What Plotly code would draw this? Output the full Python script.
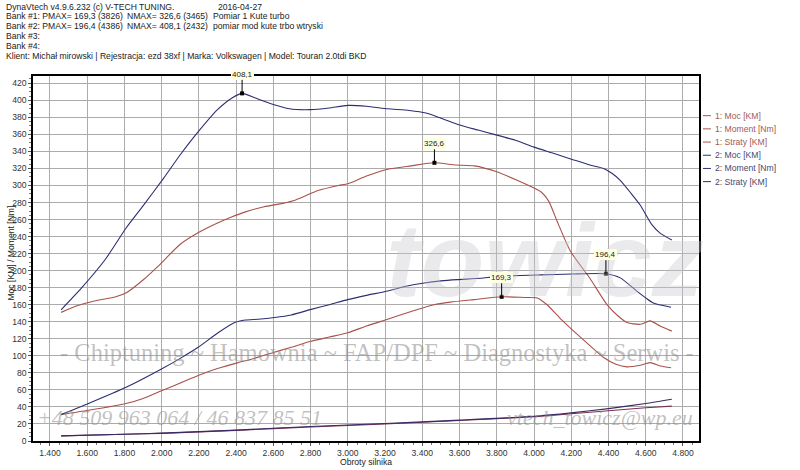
import plotly.graph_objects as go

# ---------------- data ----------------
rpm_moment1 = [1460, 1550, 1650, 1750, 1810, 1900, 1980, 2100, 2200, 2300, 2375, 2450, 2550, 2650, 2720,
               2840, 2950, 3000, 3100, 3214, 3340, 3465, 3580, 3680, 3800, 3900, 3980, 4040, 4080, 4124,
               4195, 4300, 4392, 4450, 4500, 4570, 4624, 4677, 4740]
moment1 = [151, 159, 165, 169, 174, 189, 205, 231, 245, 256, 263, 269, 275, 279, 283,
           294, 300, 302, 311, 319, 323, 326.6, 324, 323, 316, 307, 299, 292, 281, 258,
           223, 191, 160, 147, 139, 137, 141, 135, 129]

rpm_moc1 = [1460, 1607, 1809, 1900, 1999, 2100, 2196, 2300, 2410, 2482, 2600, 2696, 2800, 2900, 2999,
            3100, 3214, 3340, 3463, 3550, 3677, 3826, 3950, 4017, 4070, 4140, 4213, 4300, 4374, 4440,
            4499, 4570, 4624, 4680, 4736]
moc1 = [31, 36, 44, 50, 59, 68, 77, 85, 92, 96, 104, 110, 117, 122, 127,
        135, 143, 152, 160, 163, 166, 169.3, 168.5, 168, 160, 144, 129, 112, 98, 90,
        87, 89, 92, 88, 86]

rpm_moment2 = [1460, 1571, 1700, 1809, 1900, 2009, 2100, 2200, 2300, 2380, 2432, 2500, 2600, 2686, 2800,
               2900, 3000, 3100, 3214, 3330, 3420, 3500, 3600, 3700, 3785, 3900, 4000, 4100, 4213, 4300,
               4374, 4420, 4463, 4520, 4570, 4633, 4677, 4740]
moment2 = [154, 180, 214, 250, 276, 308, 336, 364, 389, 403, 408.1, 403, 395, 390, 389,
           391, 394, 393, 390, 388, 385, 379, 371, 365, 360, 353, 345, 338, 330, 324,
           320, 314, 306, 291, 277, 254, 244, 236]

rpm_moc2 = [1460, 1607, 1809, 1999, 2100, 2196, 2303, 2392, 2450, 2517, 2606, 2696, 2803, 2900, 2999,
            3100, 3214, 3300, 3410, 3500, 3588, 3713, 3800, 4035, 4200, 4386, 4463, 4552, 4600, 4641,
            4736]
moc2 = [31, 44, 63, 84.5, 97, 110, 127, 139, 142, 143, 145, 148, 154.5, 160, 166,
        171, 176, 181, 185.5, 188, 189.5, 191, 193, 195, 196, 196.4, 191.5, 176, 168, 162,
        157]

rpm_straty = [1460, 1800, 2000, 2400, 2800, 3200, 3600, 4000, 4200, 4400, 4600, 4740]
straty1 = [6, 8, 9, 12.5, 16.5, 20, 24, 28.5, 32, 35.5, 39, 41]
straty2 = [6, 8, 9.2, 12.8, 17, 20.5, 24.5, 29, 33, 38, 44, 49]

peak_rpm = [2432, 3465, 4386, 3826]
peak_val = [408.1, 326.6, 196.4, 169.3]
peak_txt = ["408,1", "326,6", "196,4", "169,3"]

x_tickvals = [1400, 1600, 1800, 2000, 2200, 2400, 2600, 2800, 3000, 3200, 3400, 3600, 3800,
              4000, 4200, 4400, 4600, 4800]
x_ticktext = ["1.400", "1.600", "1.800", "2.000", "2.200", "2.400", "2.600", "2.800", "3.000",
              "3.200", "3.400", "3.600", "3.800", "4.000", "4.200", "4.400", "4.600", "4.800"]
y_tickvals = list(range(0, 421, 20))

legend_names = ["1: Moc [KM]", "1: Moment [Nm]", "1: Straty [KM]",
                "2: Moc [KM]", "2: Moment [Nm]", "2: Straty [KM]"]

header_lines = [
    "DynaVtech v4.9.6.232 (c) V-TECH TUNING.",
    "Bank #1: PMAX= 169,3 (3826)",
    "Bank #2: PMAX= 196,4 (4386)",
    "Bank #3:",
    "Bank #4:",
    "Klient: Michał mirowski | Rejestracja: ezd 38xf | Marka: Volkswagen | Model: Touran 2.0tdi BKD",
]
header_nmax = ["NMAX= 326,6 (3465)", "NMAX= 408,1 (2432)"]
header_desc = ["Pomiar 1 Kute turbo", "pomiar mod kute trbo wtryski"]
header_date = "2016-04-27"

# ---------------- style ----------------
RED = "#a8524a"
BLUE = "#2c2e72"
STRATY1 = "#7a3050"
STRATY2 = "#3a2a66"
W, H = 800, 470
L, R, T, B = 31, 101, 76, 26
PW, PH = W - L - R, H - T - B


def px(x):
    return (x - L) / PW


def py(y):
    return (H - B - y) / PH


fig = go.Figure()

series = [
    (rpm_moc1, moc1, RED, legend_names[0]),
    (rpm_moment1, moment1, RED, legend_names[1]),
    (rpm_straty, straty1, STRATY1, legend_names[2]),
    (rpm_moc2, moc2, BLUE, legend_names[3]),
    (rpm_moment2, moment2, BLUE, legend_names[4]),
    (rpm_straty, straty2, STRATY2, legend_names[5]),
]
for xs, ys, c, nm in series:
    fig.add_trace(go.Scatter(x=xs, y=ys, mode="lines", name=nm,
                             line=dict(color=c, width=1.1, shape="spline", smoothing=0.6),
                             showlegend=False, hoverinfo="skip"))

fig.add_trace(go.Scatter(x=peak_rpm, y=peak_val, mode="markers",
                         marker=dict(symbol="square", size=4, color="black"),
                         showlegend=False, hoverinfo="skip"))

annotations = []
# watermarks (drawn first, below everything else)
wm_font = "Liberation Serif"
wm_col = "rgba(140,140,140,0.55)"
annotations.append(dict(x=px(545), y=py(262), xref="paper", yref="paper", text="<b><i>towicz</i></b>",
                        xanchor="center", yanchor="middle",
                        showarrow=False, font=dict(size=104, color="rgba(200,200,208,0.38)",
                                                   family="Liberation Sans")))
annotations.append(dict(x=px(376), y=py(355), xref="paper", yref="paper",
                        text="- Chiptuning ~ Hamownia ~ FAP/DPF ~ Diagnostyka ~ Serwis -",
                        xanchor="center", yanchor="middle",
                        showarrow=False, font=dict(size=24.5, color=wm_col, family=wm_font)))
annotations.append(dict(x=px(178), y=py(420), xref="paper", yref="paper",
                        text="<i>+48 509 963 064 / 46 837 85 51</i>",
                        xanchor="center", yanchor="middle",
                        showarrow=False, font=dict(size=22, color=wm_col, family=wm_font)))
annotations.append(dict(x=px(600), y=py(420), xref="paper", yref="paper",
                        text="<i>vtech_towicz@wp.eu</i>",
                        xanchor="center", yanchor="middle",
                        showarrow=False, font=dict(size=22, color=wm_col, family=wm_font)))

for xr, yv, t in zip(peak_rpm, peak_val, peak_txt):
    annotations.append(dict(x=xr, y=yv, xref="x", yref="y", text=t, showarrow=True,
                            arrowhead=0, arrowwidth=1, arrowcolor="black", ax=0, ay=-19,
                            bgcolor="#ffffe1", borderpad=1, borderwidth=0,
                            font=dict(size=8, color="#222", family="Liberation Sans")))

# header texts
hfont = dict(size=8.6, color="#222", family="Liberation Sans")
row_y = [6, 16, 26, 36, 46, 56]
for i, t in enumerate(header_lines):
    annotations.append(dict(x=px(2), y=py(row_y[i]), xref="paper", yref="paper", text=t,
                            showarrow=False, xanchor="left", yanchor="middle", font=hfont))
annotations.append(dict(x=px(215), y=py(row_y[0]), xref="paper", yref="paper", text=header_date,
                        showarrow=False, xanchor="left", yanchor="middle", font=hfont))
for i in range(2):
    annotations.append(dict(x=px(123), y=py(row_y[i + 1]), xref="paper", yref="paper",
                            text=header_nmax[i], showarrow=False, xanchor="left",
                            yanchor="middle", font=hfont))
    annotations.append(dict(x=px(210), y=py(row_y[i + 1]), xref="paper", yref="paper",
                            text=header_desc[i], showarrow=False, xanchor="left",
                            yanchor="middle", font=hfont))

# axis titles
annotations.append(dict(x=px(8), y=py(255), xref="paper", yref="paper", text="Moc [KM] / Moment [Nm]",
                        textangle=-90, showarrow=False, xanchor="center", yanchor="middle",
                        font=dict(size=8.6, color="#222", family="Liberation Sans")))
annotations.append(dict(x=px(365), y=py(465.5), xref="paper", yref="paper", text="Obroty silnika",
                        showarrow=False, xanchor="center", yanchor="middle",
                        font=dict(size=8.6, color="#222", family="Liberation Sans")))

# manual legend
shapes = []
leg_cols = [RED, RED, RED, BLUE, BLUE, BLUE]
leg_txt_cols = ["#a05a55", "#a05a55", "#a05a55", "#48486e", "#48486e", "#48486e"]
for i, nm in enumerate(legend_names):
    yy = 116 + i * 13.3
    shapes.append(dict(type="line", xref="paper", yref="paper", x0=px(703), x1=px(711),
                       y0=py(yy), y1=py(yy), line=dict(color=leg_cols[i], width=1)))
    annotations.append(dict(x=px(713), y=py(yy), xref="paper", yref="paper", text=nm,
                            showarrow=False, xanchor="left", yanchor="middle",
                            font=dict(size=8.6, color=leg_txt_cols[i], family="Liberation Sans")))

fig.update_layout(
    width=W, height=H, margin=dict(l=L, r=R, t=T, b=B),
    paper_bgcolor="white", plot_bgcolor="white",
    annotations=annotations, shapes=shapes, showlegend=False,
    xaxis=dict(range=[1309, 4886], tickvals=x_tickvals, ticktext=x_ticktext,
               showgrid=True, gridcolor="#ababab", gridwidth=1, zeroline=False,
               showline=True, linecolor="black", linewidth=1.5, mirror=True,
               ticks="outside", ticklen=3, tickcolor="#555",
               minor=dict(dtick=50, tick0=1400, ticks="outside", ticklen=2, tickcolor="#777", showgrid=False),
               tickfont=dict(size=8.6, color="#333", family="Liberation Sans")),
    yaxis=dict(range=[0, 428.5], tickvals=y_tickvals,
               showgrid=True, gridcolor="#ababab", gridwidth=1, zeroline=False,
               showline=True, linecolor="black", linewidth=1.5, mirror=True,
               ticks="outside", ticklen=3, tickcolor="#555",
               minor=dict(dtick=5, tick0=0, ticks="outside", ticklen=2, tickcolor="#777", showgrid=False),
               tickfont=dict(size=8.6, color="#333", family="Liberation Sans")),
)

fig.write_html("out.html", config={"displayModeBar": False},
               post_script="document.body.style.margin='0px';")
